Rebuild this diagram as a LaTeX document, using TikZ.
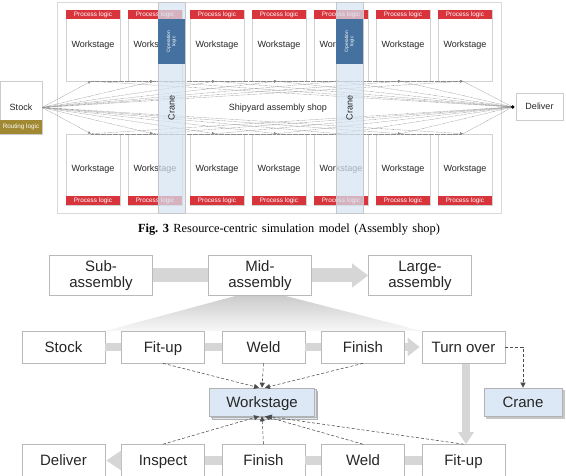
\documentclass[tikz,border=0pt]{standalone}
\usepackage{fontspec}
\setmainfont{Liberation Sans}
\newfontfamily\capfont{Liberation Serif}
\usetikzlibrary{arrows.meta,shadows,calc}
\definecolor{procred}{HTML}{D8343C}
\definecolor{routgold}{HTML}{A08932}
\definecolor{opblue}{HTML}{44719F}
\definecolor{cranefill}{HTML}{D6E4F2}
\definecolor{wsfill}{HTML}{DCE8F5}
\definecolor{bandgray}{HTML}{D6D6D6}
\begin{document}
\begin{tikzpicture}[x=1pt,y=-1pt,
  wsbox/.style={draw=gray!35, fill=white, line width=0.5pt, minimum width=54pt, minimum height=71pt, inner sep=0, font=\fontsize{9}{10}\selectfont, text=black!85},
  plhead/.style={fill=procred, minimum width=54pt, minimum height=9pt, inner sep=0, text=white, font=\fontsize{6.4}{7}\selectfont},
  smallbox/.style={draw=gray!40, fill=white, line width=0.5pt, inner sep=0, font=\fontsize{9}{10}\selectfont, text=black!85},
  dotline/.style={draw=gray!90, line width=0.4pt, dash pattern=on 0.6pt off 0.6pt},
  tinytip/.style={-{Triangle[length=3pt,width=2.6pt]}},
  cranecol/.style={draw=gray!45, fill=cranefill, fill opacity=0.72, line width=0.5pt, minimum width=27pt, minimum height=211pt, inner sep=0},
  pbox/.style={draw=gray!55, fill=white, line width=0.6pt, minimum width=83pt, minimum height=32pt, inner sep=0, text height=10.8pt, text depth=0pt, font=\fontsize{15}{17}\selectfont, text=black!85},
  abox/.style={draw=gray!55, fill=white, line width=0.6pt, minimum width=103pt, minimum height=40pt, inner sep=0, align=center, font=\fontsize{15}{16}\selectfont, text=black!85},
  band/.style={draw=bandgray, line width=8pt},
  dasharr/.style={draw=black!70, line width=0.55pt, dash pattern=on 3pt off 2pt, -{Triangle[length=5pt,width=5pt]}}
]
\useasboundingbox (0,0) rectangle (566,476);

% ---------------- top diagram ----------------
\node[draw=gray!30, line width=0.5pt, minimum width=444pt, minimum height=211pt, inner sep=0] (shop) at (279,107.5) {};

\foreach \i in {1,...,7} {
  \pgfmathsetmacro\cx{93+62*(\i-1)}
  \node[wsbox] (wT\i) at (\cx,45.5) {Workstage};
  \node[plhead, anchor=north] (hT\i) at (wT\i.north) {Process logic};
  \node[wsbox] (wB\i) at (\cx,169.5) {Workstage};
  \node[plhead, anchor=south] (hB\i) at (wB\i.south) {Process logic};
  \coordinate (pT\i) at ($(wT\i.south)+(-2,0)$);
  \coordinate (pB\i) at ($(wB\i.north)+(-2,0)$);
}

\node[smallbox, minimum width=42pt, minimum height=53pt] (stock) at (21,107.5) {Stock};
\node[fill=routgold, minimum width=42pt, minimum height=14pt, inner sep=0, text=white, font=\fontsize{6.3}{7}\selectfont] (rout) at (21,127.3) {Routing logic};
\node[smallbox, minimum width=47pt, minimum height=27pt] (deliver) at (539.5,106.5) {Deliver};
\coordinate (dpt) at ($(deliver.west)+(-3,0.5)$);

\foreach \i in {1,...,7} {
  \draw[dotline,tinytip] (stock.east) -- (pT\i);
  \draw[dotline,tinytip] (stock.east) -- (pB\i);
  \draw[dotline] (pT\i) -- (dpt);
  \draw[dotline] (pB\i) -- (dpt);
}
\foreach \i/\j in {1/2,2/3,3/4,4/5,5/6,6/7} {
  \draw[dotline,tinytip] (pT\i) -- (pT\j);
  \draw[dotline,tinytip] (pB\i) -- (pB\j);
}
\fill[black] (dpt) circle (1.8pt);

\node[font=\fontsize{9}{10}\selectfont, text=black!85] (shoptxt) at (278,108) {Shipyard assembly shop};

\foreach \k/\x in {1/171.5,2/349.5} {
  \node[cranecol] (cr\k) at (\x,107.5) {};
  \node[fill=opblue, rotate=90, minimum width=45pt, minimum height=27pt, inner sep=0, text=white, align=center, font=\fontsize{4.8}{5.4}\selectfont] (op\k) at (\x,41.5) {Operation\\logic};
  \node[rotate=90, font=\fontsize{9}{10}\selectfont, text=black!85] (crt\k) at (\x,108) {Crane};
}

% caption
\node (cap) at (289,229.5) {\capfont\fontsize{12.4}{14}\selectfont\frenchspacing\makebox[302pt][s]{\textbf{Fig. 3} Resource-centric simulation model (Assembly shop)}};

% ---------------- bottom diagram ----------------
% invisible anchors first (named nodes), boxes drawn after the bands
\node[abox, draw=none, fill=none, text opacity=0] (sub) at (101,275.5) {Sub-\\assembly};
\node[abox, draw=none, fill=none, text opacity=0] (mid) at (260,275.5) {Mid-\\assembly};
\node[abox, draw=none, fill=none, text opacity=0] (large) at (420,275.5) {Large-\\assembly};

\coordinate (stockBc) at (63.5,347);
\coordinate (turnc) at (463.5,347);

\shade[top color=gray!40, bottom color=gray!6] ($(mid.south)+(-24,0)$) -- ($(mid.south)+(25,0)$) -- ($(turnc)+(-41.5,-16)$) -- ($(stockBc)+(41.5,-16)$) -- cycle;
\draw[bandgray, line width=14pt] (sub.east) -- (mid.west);
\draw[bandgray, line width=14pt, -{Triangle[length=16pt,width=23pt]}] (mid.east) -- (large.west);

\node[abox] (subB) at (sub) {Sub-\\assembly};
\node[abox] (midB) at (mid) {Mid-\\assembly};
\node[abox] (largeB) at (large) {Large-\\assembly};

\node[pbox] (stockB) at (stockBc) {Stock};
\node[pbox] (fitT) at (163,347) {Fit-up};
\node[pbox] (weldT) at (263.5,347) {Weld};
\node[pbox] (finishT) at (363,347) {Finish};
\node[pbox] (turn) at (turnc) {Turn over};

\node[pbox] (deliverB) at (63.5,460.5) {Deliver};
\node[pbox] (inspect) at (163,460.5) {Inspect};
\node[pbox] (finishB) at (263.5,460.5) {Finish};
\node[pbox] (weldB) at (363,460.5) {Weld};
\node[pbox] (fitB) at (463.5,460.5) {Fit-up};

\draw[band] (stockB.east) -- (fitT.west);
\draw[band] (fitT.east) -- (weldT.west);
\draw[band] (weldT.east) -- (finishT.west);
\draw[band, -{Triangle[length=12pt,width=18pt]}] (finishT.east) -- ($(turn.west)+(-2,0)$);
\draw[band, -{Triangle[length=12pt,width=15pt]}] ($(turn.south)+(2.5,0.3)$) -- ($(fitB.north)+(2.5,0)$);
\draw[bandgray, line width=9pt] (fitB.west) -- (weldB.east);
\draw[bandgray, line width=9pt] (weldB.west) -- (finishB.east);
\draw[bandgray, line width=9pt] (finishB.west) -- (inspect.east);
\draw[bandgray, line width=9pt, -{Triangle[length=15pt,width=19pt]}] (inspect.west) -- ($(deliverB.east)+(1,0)$);

\node[pbox, fill=wsfill, minimum width=105pt, minimum height=28pt, draw=gray!60,
  double copy shadow={shadow xshift=1.5pt, shadow yshift=-1.5pt, fill=wsfill, draw=gray!60}] (ws) at (262,402) {Workstage};
\node[pbox, fill=wsfill, minimum width=78pt, minimum height=28pt, draw=gray!60,
  copy shadow={shadow xshift=2pt, shadow yshift=-2pt, fill=gray!45, draw=gray!45}] (craneB) at (523,402) {Crane};

\draw[dasharr] (fitT.south) -- ($(ws.north)+(-3,0)$);
\draw[dasharr] (weldT.south) -- (ws.north);
\draw[dasharr] (finishT.south) -- ($(ws.north)+(3,0)$);
\draw[dasharr] (inspect.north) -- ($(ws.south)+(-3,0)$);
\draw[dasharr] (finishB.north) -- (ws.south);
\draw[dasharr] (weldB.north) -- ($(ws.south)+(3,0)$);
\draw[dasharr] (fitB.north) -- ($(ws.south)+(5,0)$);
\draw[dasharr] (turn.east) -| (craneB.north);
\end{tikzpicture}
\end{document}
